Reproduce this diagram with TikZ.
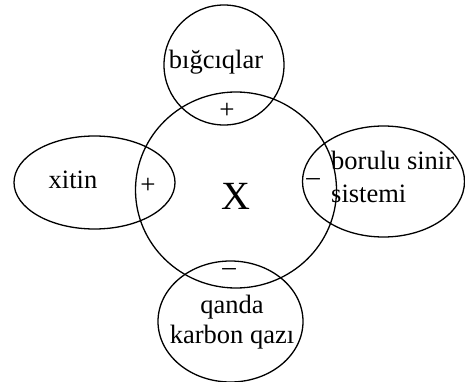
\documentclass[tikz,border=0pt]{standalone}
\usepackage{fontspec}
\setmainfont{Liberation Serif}
\usetikzlibrary{shapes.geometric}
\begin{document}
\begin{tikzpicture}[x=1pt,y=-1pt,
  ring/.style={draw=black,line width=1.3pt,ellipse,inner sep=0pt,outer sep=0pt},
  lbl/.style={font=\fontsize{26.5}{31}\selectfont,inner sep=0pt},
  sgn/.style={font=\fontsize{27}{30}\selectfont,inner sep=0pt}]
\useasboundingbox (0,0) rectangle (465,382);
\node[ring,minimum width=201pt,minimum height=196pt] (big) at (236,190) {};
\node[ring,minimum width=120pt,minimum height=120pt] (top) at (224,65) {};
\node[ring,minimum width=161pt,minimum height=93pt] (left) at (94.5,182.5) {};
\node[ring,minimum width=162pt,minimum height=111pt] (right) at (383.5,181.5) {};
\node[ring,minimum width=145pt,minimum height=121pt] (bot) at (230.5,321.5) {};
\node[lbl,anchor=base] (tl) at (216,69) {bığcıqlar};
\node[lbl,anchor=base] (ll) at (73,188) {xitin};
\node[lbl,anchor=base west] (rl1) at (331,169) {borulu sinir};
\node[lbl,anchor=base west] (rl2) at (331,202) {sistemi};
\node[lbl,anchor=base] (bl1) at (232,313) {qanda};
\node[lbl,anchor=base] (bl2) at (232,343) {karbon qazı};
\node[font=\fontsize{40}{44}\selectfont,inner sep=0pt] (x) at (236,196) {X};
\node[sgn] (s1) at (227,111) {+};
\node[sgn] (s2) at (148,186) {+};
\node[sgn] (s3) at (313,182) {–};
\node[sgn] (s4) at (229,272) {–};
\end{tikzpicture}
\end{document}
